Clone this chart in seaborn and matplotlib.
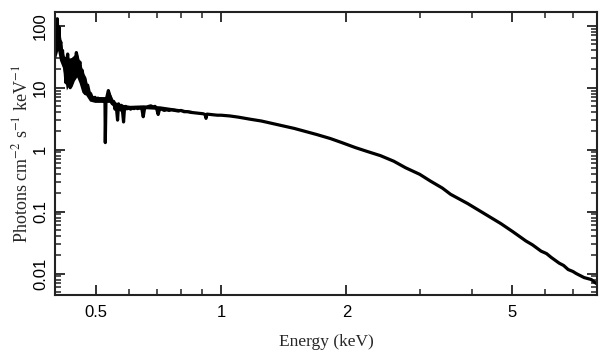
import numpy as np
import pandas as pd
import matplotlib
matplotlib.use("Agg")
import matplotlib.pyplot as plt
from matplotlib.ticker import FixedLocator, FixedFormatter, NullFormatter
import seaborn as sns

energy = [0.400, 0.402, 0.404, 0.406, 0.408, 0.410, 0.412, 0.414, 0.416, 0.418,
          0.420, 0.422, 0.424, 0.426, 0.428, 0.430, 0.432, 0.434, 0.436, 0.438,
          0.440, 0.443, 0.446, 0.449, 0.452, 0.455, 0.458, 0.461, 0.464, 0.467,
          0.470, 0.474, 0.478, 0.482, 0.486, 0.490, 0.494, 0.498, 0.502, 0.506,
          0.510, 0.514, 0.518, 0.522, 0.526, 0.527, 0.529, 0.532, 0.536, 0.540,
          0.544, 0.548, 0.552, 0.556, 0.560, 0.564, 0.567, 0.572, 0.576, 0.580,
          0.583, 0.586, 0.590, 0.595, 0.600, 0.606, 0.612, 0.618, 0.624, 0.630,
          0.636, 0.645, 0.650, 0.655, 0.662, 0.670, 0.678, 0.686, 0.694, 0.700,
          0.706, 0.712, 0.720, 0.730, 0.740, 0.750, 0.760, 0.775, 0.790, 0.800,
          0.815, 0.830, 0.845, 0.860, 0.875, 0.890, 0.905, 0.915, 0.920, 0.925,
          0.940, 0.960, 0.980, 1.000, 1.050, 1.100, 1.175, 1.250, 1.388, 1.500,
          1.594, 1.700, 1.831, 1.950, 2.102, 2.250, 2.415, 2.600, 2.775, 3.000,
          3.186, 3.400, 3.560, 3.910, 4.320, 4.700, 5.030, 5.400, 5.600, 5.870,
          6.050, 6.210, 6.490, 6.650, 6.820, 7.000, 7.130, 7.300, 7.450, 7.600,
          7.750, 7.900, 8.000]

flux = [45, 70, 130, 60, 95, 45, 55, 35, 40, 25,
        30, 18, 12, 28, 35, 22, 14, 10, 16, 12,
        22, 30, 25, 37, 30, 22, 26, 17, 19, 13,
        14, 10, 11, 8.5, 8.0, 7.0, 6.5, 7.0, 6.3, 6.8,
        6.2, 6.6, 6.4, 6.0, 6.5, 1.3, 6.3, 7.2, 9.0, 7.5,
        6.0, 5.5, 6.0, 4.5, 5.0, 3.0, 5.5, 4.8, 5.2, 4.0,
        2.8, 4.6, 5.0, 4.6, 4.8, 4.5, 4.7, 4.6, 4.8, 4.6,
        4.7, 4.6, 3.4, 4.7, 4.8, 5.0, 5.1, 4.9, 5.0, 4.6,
        3.7, 4.6, 4.5, 4.3, 4.4, 4.3, 4.4, 4.3, 4.2, 4.3,
        4.1, 4.1, 4.0, 3.95, 3.9, 3.85, 3.8, 3.7, 3.2, 3.75,
        3.7, 3.65, 3.6, 3.6, 3.5, 3.35, 3.1, 2.9, 2.47, 2.2,
        1.97, 1.75, 1.51, 1.3, 1.08, 0.93, 0.80, 0.65, 0.51, 0.40,
        0.31, 0.24, 0.19, 0.135, 0.090, 0.064, 0.047, 0.0335, 0.029, 0.023,
        0.021, 0.0182, 0.0147, 0.0135, 0.0116, 0.0108, 0.0100, 0.0092, 0.0086, 0.0083,
        0.0080, 0.0072, 0.0068]

# scatter envelope of the noisy low-energy data
band_energy = [0.399, 0.405, 0.409, 0.416, 0.421, 0.425, 0.431, 0.438, 0.444, 0.450,
               0.456, 0.463, 0.468, 0.473, 0.483, 0.497, 0.510, 0.526, 0.530, 0.540,
               0.550, 0.560, 0.571, 0.590, 0.604, 0.650, 0.713, 0.775, 0.850]
band_lo = [28, 40, 28, 21, 14, 9.2, 11, 10.3, 13, 14.9,
           12, 8.5, 7.8, 7.6, 6.1, 5.8, 5.8, 5.8, 5.8, 5.8,
           5.0, 4.5, 4.2, 4.4, 4.5, 4.6, 4.45, 4.2, 4.0]
band_hi = [66, 124, 85, 41, 30, 36, 30, 31, 34, 38,
           28, 21, 17, 15, 8.0, 7.2, 7.2, 7.2, 7.2, 8.5,
           6.5, 5.8, 5.5, 5.3, 5.2, 5.3, 5.1, 4.7, 4.3]

x_major = [0.5, 1, 2, 5]
x_major_labels = ["0.5", "1", "2", "5"]
x_minor = [0.6, 0.7, 0.8, 0.9, 3, 4, 6, 7, 8]
y_major = [0.01, 0.1, 1, 10, 100]
y_major_labels = ["0.01", "0.1", "1", "10", "100"]

sns.set_theme(style="ticks")
plt.rcParams["font.family"] = ["Liberation Sans", "DejaVu Sans"]
plt.rcParams["mathtext.fontset"] = "stix"

df = pd.DataFrame({"Energy": energy, "Flux": flux})

fig = plt.figure(figsize=(6.09, 3.57), dpi=100)
ax = fig.add_axes([55 / 609, 1 - 295 / 357, 542 / 609, 283 / 357])

ax.fill_between(band_energy, band_lo, band_hi, color="black", linewidth=0)
sns.lineplot(data=df, x="Energy", y="Flux", ax=ax, estimator=None, sort=False,
             color="black", linewidth=2.3)

ax.set_xscale("log")
ax.set_yscale("log")
ax.set_xlim(0.399, 8.0)
ax.set_ylim(0.0045, 167)

ax.xaxis.set_major_locator(FixedLocator(x_major))
ax.xaxis.set_major_formatter(FixedFormatter(x_major_labels))
ax.xaxis.set_minor_locator(FixedLocator(x_minor))
ax.xaxis.set_minor_formatter(NullFormatter())

yminor = [m * 10.0 ** e for e in range(-3, 3) for m in range(2, 10)]
ax.yaxis.set_major_locator(FixedLocator(y_major))
ax.yaxis.set_major_formatter(FixedFormatter(y_major_labels))
ax.yaxis.set_minor_locator(FixedLocator(yminor))
ax.yaxis.set_minor_formatter(NullFormatter())

ax.tick_params(which="both", direction="in", top=True, right=True,
               colors="#222222", labelcolor="black", labelsize=12)
ax.tick_params(which="major", length=7, width=1.3)
ax.tick_params(which="minor", length=4, width=1.1)
ax.tick_params(axis="x", which="major", pad=7)
for lab in ax.get_yticklabels():
    lab.set_rotation(90)
    lab.set_va("center")
ax.tick_params(axis="y", which="major", pad=5)

for sp in ax.spines.values():
    sp.set_linewidth(1.5)
    sp.set_color("#222222")

serif = ["Liberation Serif", "DejaVu Serif"]
ax.set_xlabel("Energy (keV)", family=serif, fontsize=12.5, labelpad=10)
ax.set_ylabel("Photons cm$^{-2}$ s$^{-1}$ keV$^{-1}$", family=serif, fontsize=13,
              labelpad=1)

fig.savefig("out.png", dpi=100)
